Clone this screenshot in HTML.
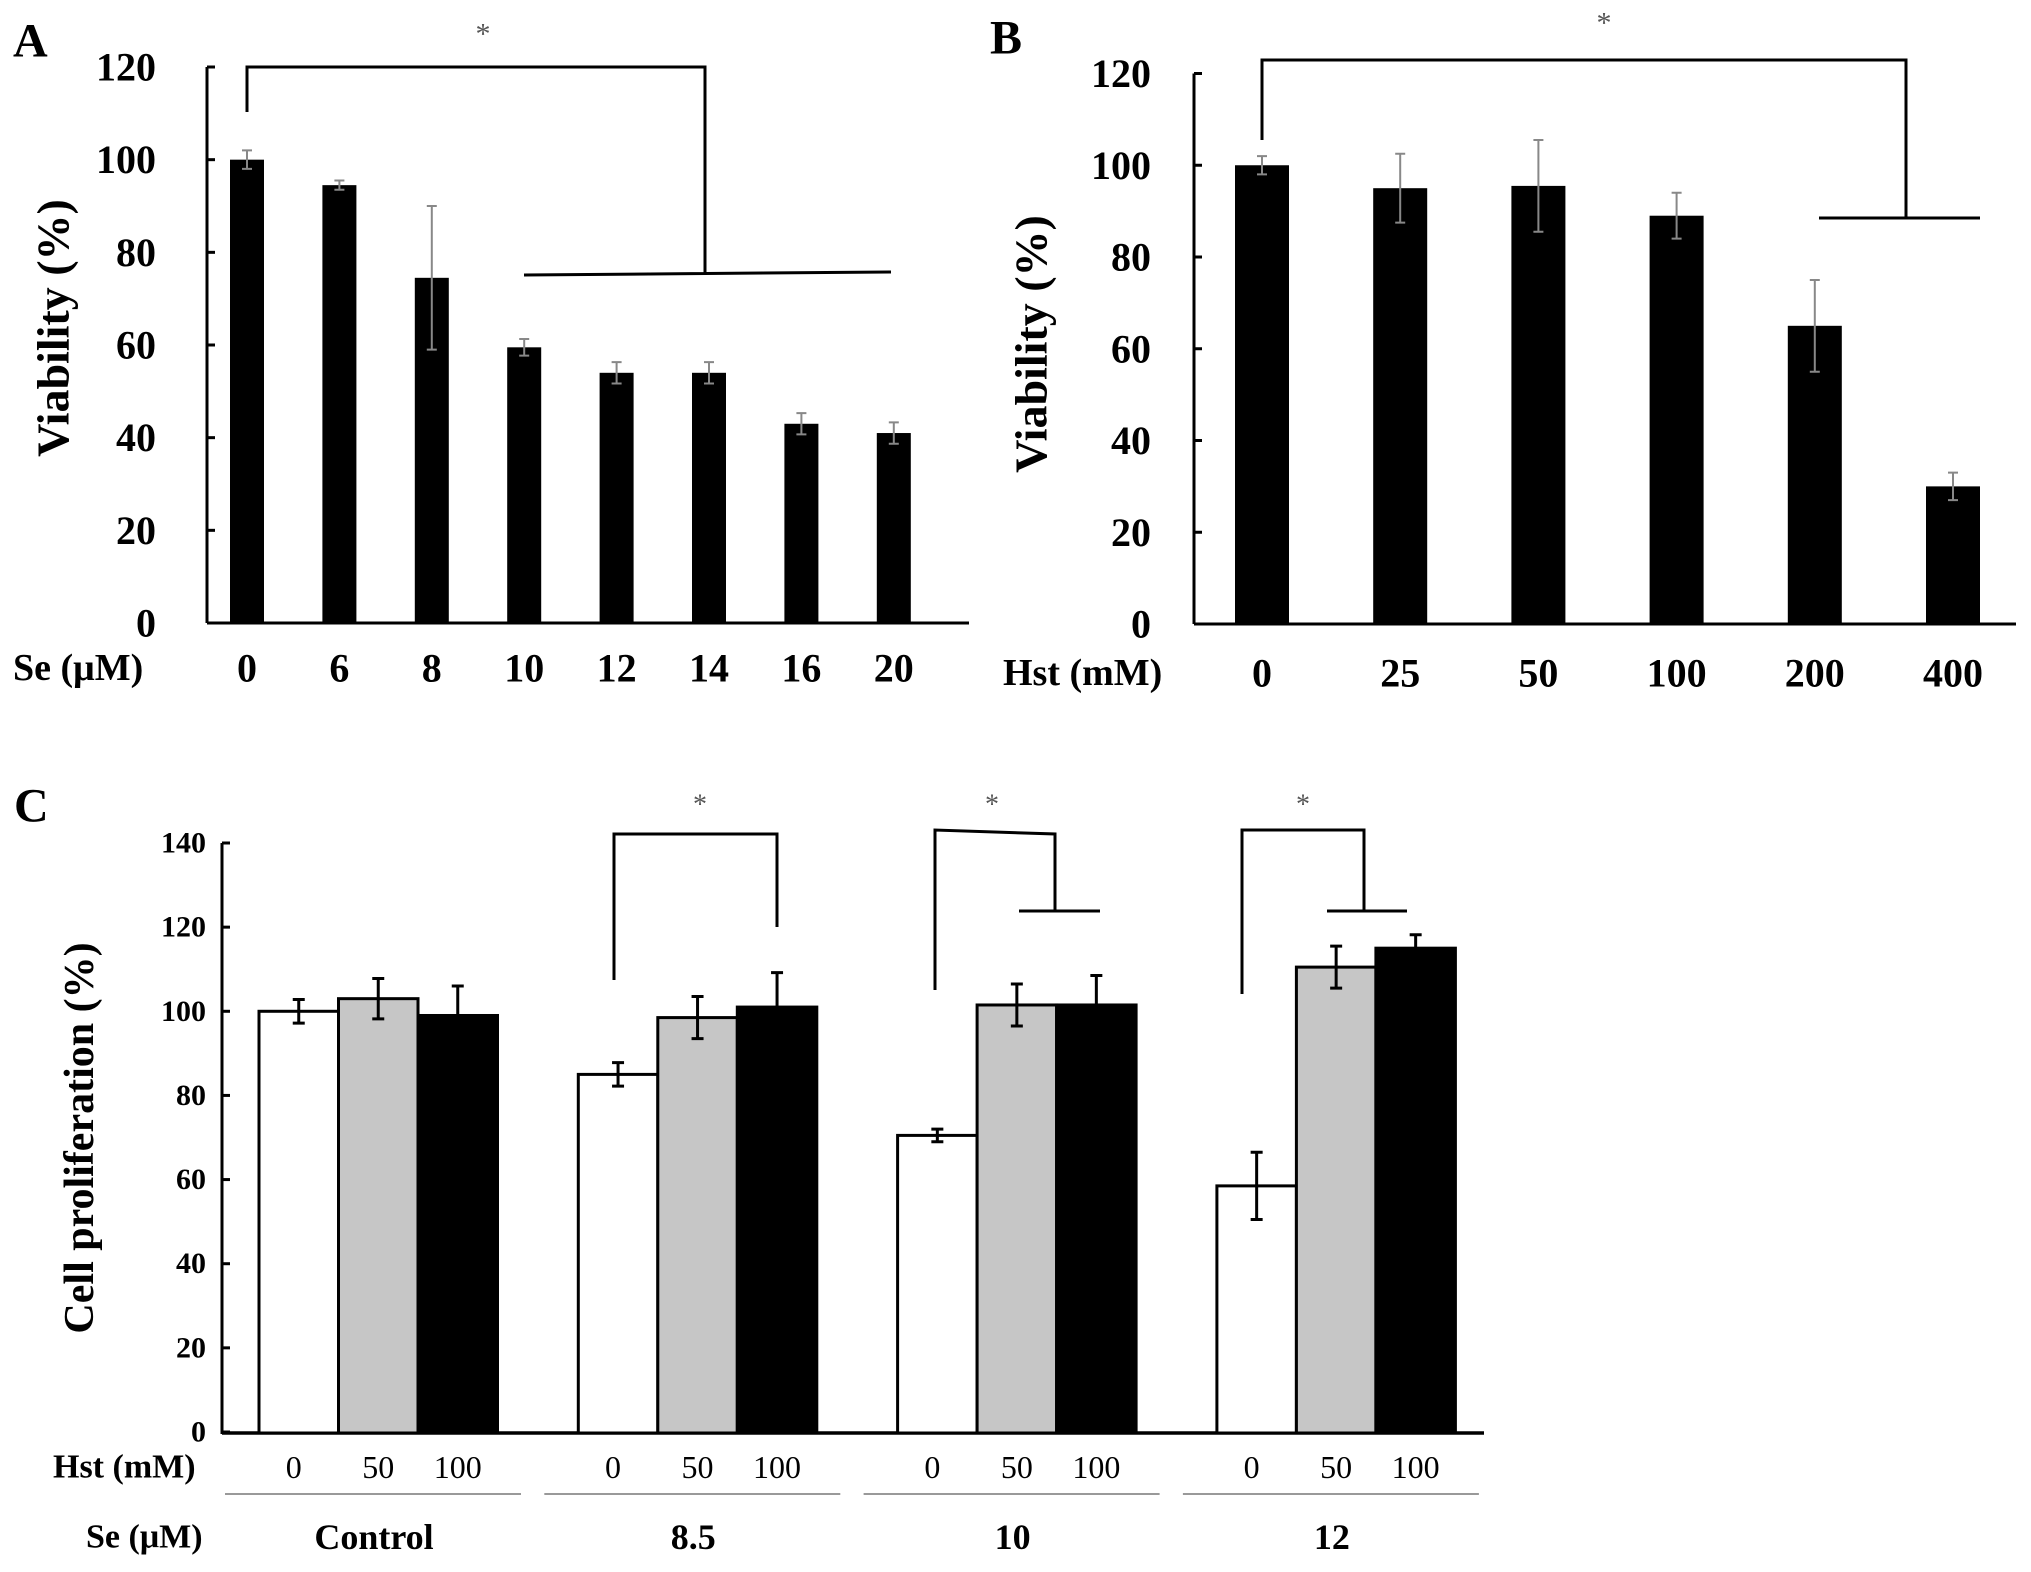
<!DOCTYPE html>
<html><head><meta charset="utf-8"><style>
html,body{margin:0;padding:0;background:#fff;}
svg{display:block;font-family:"Liberation Serif",serif;}
</style></head><body>
<svg id="fig" width="2031" height="1572" viewBox="0 0 2031 1572" xmlns="http://www.w3.org/2000/svg"></svg>
<script>
// Panel A data
const aCats = ["0","6","8","10","12","14","16","20"];
const aVals = [100,94.5,74.5,59.5,54,54,43,41];
const aErrs = [2,1,15.5,1.8,2.3,2.3,2.3,2.3];
const aTicks = [0,20,40,60,80,100,120];
// Panel B data
const bCats = ["0","25","50","100","200","400"];
const bVals = [100,95,95.5,89,65,30];
const bErrs = [2,7.5,10,5,10,3];
const bTicks = [0,20,40,60,80,100,120];
// Panel C data
const cGroups = ["Control","8.5","10","12"];
const cHst = ["0","50","100"];
const cVals0 = [100,85,70.5,58.5];
const cVals50 = [103,98.5,101.5,110.5];
const cVals100 = [99,101,101.5,115];
const cErrs0 = [2.8,2.8,1.5,8];
const cErrs50 = [4.8,5,5,5];
const cErrs100 = [7,8.2,7,3.2];
const cTicks = [0,20,40,60,80,100,120,140];

const NS="http://www.w3.org/2000/svg";
const svg=document.getElementById('fig');
function mk(tag,attrs,parent){const e=document.createElementNS(NS,tag);for(const k in attrs)e.setAttribute(k,attrs[k]);(parent||svg).appendChild(e);return e;}
function txt(x,y,s,size,weight,anchor,parent){const t=mk('text',{x:x,y:y,'font-size':size,'font-weight':weight,'text-anchor':anchor,'dominant-baseline':'central',fill:'#000'},parent);t.textContent=s;return t;}

// ---------- Panel A ----------
const gA=mk('g',{});


const aY=v=>623-(v/120)*(623-67);
const aX=i=>247+i*92.4;
let e;
e=mk('line',{x1:207,y1:aY(120),x2:207,y2:623,stroke:'#000','stroke-width':3},gA);

e=mk('line',{x1:207,y1:623,x2:969,y2:623,stroke:'#000','stroke-width':3},gA);

aTicks.forEach(t=>{
  mk('line',{x1:207,y1:aY(t),x2:215,y2:aY(t),stroke:'#000','stroke-width':3},gA);
  e=txt(156,aY(t),String(t),40,'bold','end',gA);
  
});
aCats.forEach((c,i)=>{
  e=mk('rect',{x:aX(i)-17,y:aY(aVals[i]),width:34,height:623-aY(aVals[i]),fill:'#000'},gA);
  
  const t=aY(aVals[i]+aErrs[i]),b=aY(aVals[i]-aErrs[i]);
  e=mk('path',{d:`M${aX(i)},${t}V${b}M${aX(i)-5},${t}H${aX(i)+5}M${aX(i)-5},${b}H${aX(i)+5}`,stroke:'#888','stroke-width':2,fill:'none'},gA);
  
  e=txt(aX(i),668,c,40,'bold','middle',gA);
  
});
e=txt(13,668,"Se (μM)",38,'bold','start',gA);
e=txt(0,0,"Viability (%)",46,'bold','middle',gA);e.setAttribute('transform','translate(53,328) rotate(-90)');

e=txt(13,41,"A",48,'bold','start',gA);
e=mk('path',{d:'M247,112V67H705V274M524,275L891,272',stroke:'#000','stroke-width':3,fill:'none'},gA);

e=txt(483,34,"*",30,'normal','middle',gA);e.setAttribute('fill','#555');

// ---------- Panel B ----------
const gB=mk('g',{});


const bY=v=>624-(v/120)*(624-73.5);
const bX=i=>1262+i*138.2;
e=mk('line',{x1:1194,y1:bY(120),x2:1194,y2:624,stroke:'#000','stroke-width':3},gB);

e=mk('line',{x1:1194,y1:624,x2:2016,y2:624,stroke:'#000','stroke-width':3},gB);

bTicks.forEach(t=>{
  mk('line',{x1:1194,y1:bY(t),x2:1202,y2:bY(t),stroke:'#000','stroke-width':3},gB);
  e=txt(1151,bY(t),String(t),40,'bold','end',gB);
  
});
bCats.forEach((c,i)=>{
  e=mk('rect',{x:bX(i)-27,y:bY(bVals[i]),width:54,height:624-bY(bVals[i]),fill:'#000'},gB);
  
  const t=bY(bVals[i]+bErrs[i]),b=bY(bVals[i]-bErrs[i]);
  e=mk('path',{d:`M${bX(i)},${t}V${b}M${bX(i)-5},${t}H${bX(i)+5}M${bX(i)-5},${b}H${bX(i)+5}`,stroke:'#888','stroke-width':2,fill:'none'},gB);
  
  e=txt(bX(i),673,c,40,'bold','middle',gB);
  
});
e=txt(1003,673,"Hst (mM)",38,'bold','start',gB);
e=txt(0,0,"Viability (%)",46,'bold','middle',gB);e.setAttribute('transform','translate(1031,344) rotate(-90)');

e=txt(990,38,"B",48,'bold','start',gB);
e=mk('path',{d:'M1262,140V60H1906V218M1819,218H1980',stroke:'#000','stroke-width':3,fill:'none'},gB);

e=txt(1604,23,"*",30,'normal','middle',gB);e.setAttribute('fill','#555');

// ---------- Panel C ----------
const gC=mk('g',{});


const cY=v=>1432-(v/140)*(1432-843);
const gStart=i=>259+i*319.3;
const bw=79.5;
e=mk('line',{x1:222,y1:cY(140),x2:222,y2:1434,stroke:'#000','stroke-width':3},gC);

e=mk('line',{x1:222,y1:1433,x2:1484,y2:1433,stroke:'#000','stroke-width':3.5},gC);

cTicks.forEach(t=>{
  mk('line',{x1:222,y1:cY(t),x2:230,y2:cY(t),stroke:'#000','stroke-width':3},gC);
  e=txt(206,cY(t),String(t),30,'bold','end',gC);
  
});
const series=[[cVals0,cErrs0,'#fff'],[cVals50,cErrs50,'#c6c6c6'],[cVals100,cErrs100,'#000']];
cGroups.forEach((g,gi)=>{
  series.forEach((s,si)=>{
    const x=gStart(gi)+si*bw, v=s[0][gi], er=s[1][gi];
    e=mk('rect',{x:x,y:cY(v),width:bw,height:1433-cY(v),fill:s[2],stroke:'#000','stroke-width':3},gC);
    
    const cx=x+bw/2,t=cY(v+er),b=cY(v-er);
    e=mk('path',{d:`M${cx},${t}V${b}M${cx-6},${t}H${cx+6}M${cx-6},${b}H${cx+6}`,stroke:'#000','stroke-width':3,fill:'none'},gC);
    
    e=txt(cx-(si==0?5:0),1467,cHst[si],32,'normal','middle',gC);
    
  });
  const gs=gStart(gi);
  e=mk('line',{x1:gs-34,y1:1494,x2:gs+262,y2:1494,stroke:'#999','stroke-width':2},gC);
  
  e=txt(gs+115,1537,g,36,'bold','middle',gC);
  
});
e=txt(53,1467,"Hst (mM)",34,'bold','start',gC);
e=txt(86,1537,"Se (μM)",34,'bold','start',gC);
e=txt(0,0,"Cell proliferation (%)",42,'bold','middle',gC);e.setAttribute('transform','translate(80,1138) rotate(-90)');

e=txt(14,806,"C",48,'bold','start',gC);
e=mk('path',{d:'M614,980V834H777V927',stroke:'#000','stroke-width':3,fill:'none'},gC);

e=mk('path',{d:'M935,990V830L1055,834V911M1019,911H1100',stroke:'#000','stroke-width':3,fill:'none'},gC);

e=mk('path',{d:'M1242,994V830H1364V911M1327,911H1407',stroke:'#000','stroke-width':3,fill:'none'},gC);

[700,992,1303].forEach(x=>{
  e=txt(x,805,"*",28,'normal','middle',gC);e.setAttribute('fill','#555');
  
});
</script>
</body></html>
